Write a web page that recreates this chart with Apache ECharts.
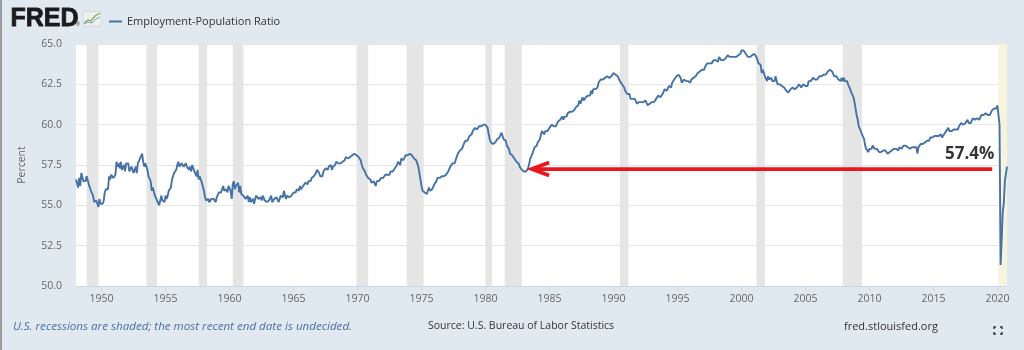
<!DOCTYPE html>
<html>
<head>
<meta charset="utf-8">
<script src="https://cdn.jsdelivr.net/npm/echarts@6/dist/echarts.min.js"></script>
<style>
  html, body { margin: 0; padding: 0; background: #e1e9f0; }
  #chart { width: 1024px; height: 350px; }
</style>
</head>
<body>
<div id="chart"></div>
<script>
// Civilian employment-population ratio, monthly, seasonally adjusted (percent)
const seriesName = 'Employment-Population Ratio';
const startYear = 1948;

const ratio1948to1959 = [
  56.6,56.7,56.1,56.7,56.2,57.0,57.1,56.5,56.6,56.5,56.8,56.7,
  56.3,56.1,55.9,55.8,55.6,55.2,55.1,55.3,55.2,54.9,55.4,55.1,
  55.0,55.1,55.3,55.8,56.0,56.1,56.0,56.8,56.6,56.9,56.8,56.7,
  56.8,56.9,57.7,57.4,57.6,57.3,57.7,57.2,57.1,57.5,57.1,57.6,
  57.7,57.6,57.1,57.0,57.4,57.2,57.0,56.9,57.4,57.0,57.6,57.7,
  57.9,57.8,58.2,57.7,57.4,57.6,57.4,57.2,56.8,56.8,56.5,55.9,
  56.1,56.0,55.6,55.6,55.3,55.2,55.0,55.3,55.6,55.3,55.4,55.2,
  55.6,55.4,55.6,55.9,55.9,56.1,56.6,56.8,57.0,56.9,57.2,57.5,
  57.7,57.4,57.5,57.6,57.5,57.4,57.5,57.6,57.4,57.5,57.2,57.4,
  57.1,57.5,57.3,57.1,57.0,56.8,57.2,56.6,56.8,56.6,56.4,56.4,
  55.9,55.5,55.3,55.2,55.4,55.2,55.3,55.4,55.5,55.4,55.3,55.2,
  55.5,55.4,55.8,55.9,55.8,55.9,56.2,55.9,55.8,56.0,55.8,56.2
];
const ratio1960s = [
  56.2,55.9,55.4,56.3,56.5,56.0,56.2,56.1,56.4,55.8,56.2,55.7,
  55.8,55.6,55.7,55.4,55.3,55.6,55.2,55.5,55.2,55.3,55.4,55.1,
  55.4,55.6,55.6,55.4,55.5,55.5,55.3,55.6,55.6,55.3,55.2,55.2,
  55.3,55.3,55.4,55.6,55.2,55.3,55.4,55.5,55.5,55.4,55.2,55.3,
  55.6,55.7,55.5,55.9,55.6,55.4,55.6,55.5,55.5,55.6,55.6,55.7,
  55.8,55.9,55.8,56.0,56.0,55.9,56.2,56.0,56.0,56.2,56.3,56.4,
  56.4,56.3,56.5,56.6,56.5,56.7,56.7,56.8,56.9,57.0,57.2,57.1,
  57.0,56.8,56.9,56.8,57.1,57.1,57.3,57.3,57.2,57.4,57.5,57.5,
  57.2,57.4,57.3,57.5,57.7,57.8,57.6,57.6,57.6,57.5,57.7,57.8,
  57.8,58.0,57.9,57.9,57.9,58.0,58.1,58.1,58.1,58.2,58.1,58.1
];
const ratio1970s = [
  58.1,58.0,57.9,57.8,57.5,57.3,57.3,57.1,56.9,56.8,56.7,56.6,
  56.6,56.4,56.3,56.5,56.4,56.2,56.5,56.5,56.5,56.6,56.7,56.8,
  56.7,56.8,56.9,56.9,56.9,57.0,56.9,57.1,57.0,57.1,57.2,57.3,
  57.2,57.5,57.7,57.6,57.5,57.9,57.9,57.8,57.8,58.1,58.2,58.1,
  58.2,58.2,58.2,58.1,58.0,57.9,57.9,57.8,57.6,57.4,57.0,56.6,
  56.2,55.9,55.8,55.8,55.9,55.7,55.9,56.1,55.9,56.0,56.0,56.0,
  56.3,56.4,56.5,56.7,56.8,56.7,56.8,56.8,56.7,56.8,56.8,56.9,
  56.9,57.1,57.2,57.4,57.4,57.6,57.5,57.6,57.8,57.9,58.2,58.2,
  58.4,58.4,58.5,58.7,58.8,59.0,58.9,59.0,59.0,59.3,59.3,59.4,
  59.6,59.7,59.8,59.8,59.7,59.8,59.9,59.8,59.9,59.9,60.0,60.1
];
const ratio1980s = [
  60.0,60.0,59.8,59.4,59.1,58.9,58.8,58.8,58.9,58.9,59.0,59.1,
  59.1,59.2,59.3,59.5,59.6,59.1,59.1,59.0,58.7,58.7,58.5,58.2,
  58.2,58.1,58.0,57.9,58.0,57.7,57.7,57.6,57.4,57.3,57.2,57.2,
  57.1,57.1,57.1,57.2,57.3,57.6,57.9,58.0,58.2,58.3,58.6,58.7,
  58.7,58.9,59.0,59.1,59.4,59.6,59.5,59.4,59.6,59.6,59.6,59.7,
  59.8,59.8,60.0,59.9,59.9,59.8,59.9,60.0,60.2,60.2,60.3,60.4,
  60.5,60.3,60.5,60.5,60.5,60.7,60.7,60.8,60.8,60.8,60.9,60.9,
  61.0,61.1,61.1,61.2,61.5,61.3,61.5,61.7,61.5,61.6,61.7,61.8,
  61.8,61.9,61.8,62.1,61.9,62.2,62.2,62.2,62.3,62.3,62.6,62.5,
  62.8,62.9,62.8,62.8,62.9,63.0,63.0,63.1,62.9,63.0,63.0,63.0
];
const ratio1990s = [
  63.2,63.2,63.1,63.0,63.0,62.9,62.7,62.6,62.5,62.4,62.3,62.1,
  62.0,61.9,61.8,61.9,61.6,61.7,61.6,61.5,61.6,61.5,61.3,61.3,
  61.4,61.3,61.4,61.5,61.4,61.5,61.5,61.4,61.2,61.3,61.3,61.3,
  61.4,61.4,61.4,61.5,61.6,61.7,61.8,61.9,61.7,61.8,61.9,62.0,
  62.2,62.2,62.1,62.2,62.4,62.3,62.3,62.6,62.6,62.8,62.9,63.0,
  63.1,63.1,63.0,62.9,62.6,62.6,62.8,62.7,62.7,62.8,62.7,62.7,
  62.6,62.8,62.8,62.9,62.9,63.0,63.1,63.2,63.2,63.3,63.3,63.4,
  63.4,63.4,63.6,63.7,63.8,63.7,63.8,63.9,63.8,63.8,64.0,64.0,
  64.0,64.1,63.9,64.2,64.1,64.0,64.0,64.0,64.1,64.1,64.2,64.3,
  64.4,64.2,64.1,64.2,64.3,64.2,64.1,64.2,64.2,64.3,64.4,64.4
];
const ratio2000s = [
  64.6,64.6,64.6,64.7,64.4,64.5,64.2,64.2,64.2,64.2,64.3,64.4,
  64.4,64.3,64.2,64.0,63.8,63.7,63.7,63.2,63.4,63.2,63.0,62.9,
  62.7,63.0,62.8,62.7,62.9,62.7,62.7,62.7,63.0,62.7,62.5,62.4,
  62.5,62.5,62.4,62.4,62.3,62.3,62.1,62.1,62.0,62.1,62.2,62.2,
  62.3,62.3,62.2,62.3,62.3,62.4,62.5,62.4,62.3,62.3,62.5,62.4,
  62.4,62.4,62.4,62.7,62.8,62.7,62.8,62.9,62.8,62.8,62.7,62.8,
  62.9,63.0,63.1,63.0,63.1,63.1,63.0,63.1,63.1,63.3,63.3,63.4,
  63.3,63.3,63.3,63.0,63.0,63.0,62.9,62.8,62.9,62.7,62.9,62.7,
  62.9,62.7,62.7,62.7,62.5,62.4,62.2,62.0,61.9,61.7,61.4,61.0,
  60.6,60.3,59.9,59.8,59.6,59.4,59.3,59.1,58.7,58.5,58.6,58.3
];
const ratio2010s = [
  58.5,58.5,58.5,58.7,58.6,58.5,58.5,58.5,58.5,58.3,58.3,58.3,
  58.4,58.4,58.4,58.4,58.3,58.2,58.2,58.3,58.3,58.4,58.5,58.5,
  58.4,58.5,58.5,58.4,58.6,58.6,58.5,58.5,58.7,58.8,58.7,58.6,
  58.6,58.6,58.5,58.6,58.6,58.6,58.6,58.6,58.6,58.2,58.6,58.6,
  58.8,58.7,58.8,58.9,58.9,59.0,59.0,59.0,59.0,59.2,59.2,59.2,
  59.3,59.3,59.3,59.3,59.4,59.3,59.3,59.4,59.2,59.3,59.4,59.5,
  59.6,59.7,59.8,59.6,59.6,59.6,59.7,59.7,59.7,59.7,59.7,59.7,
  59.9,60.0,60.1,60.2,60.0,60.1,60.1,60.0,60.3,60.1,60.1,60.1,
  60.1,60.4,60.4,60.3,60.4,60.4,60.5,60.3,60.4,60.6,60.6,60.6,
  60.6,60.7,60.7,60.6,60.6,60.6,60.7,60.9,61.0,61.0,61.0,61.0
];
const ratio2020 = [61.2,61.1,60.0,51.3,52.8,54.6,55.1,56.5,56.6,57.4];

// NBER recessions, first and last month of each shaded period
const recessions = [
  ['1948-11','1949-10'], ['1953-07','1954-05'], ['1957-08','1958-04'],
  ['1960-04','1961-02'], ['1969-12','1970-11'], ['1973-11','1975-03'],
  ['1980-01','1980-07'], ['1981-07','1982-11'], ['1990-07','1991-03'],
  ['2001-03','2001-11'], ['2007-12','2009-06']
];
const openRecessionStart = '2020-02';

const yearTicks = [1950,1955,1960,1965,1970,1975,1980,1985,1990,1995,2000,2005,2010,2015,2020];
const percentTicks = [50, 52.5, 55, 57.5, 60, 62.5, 65];

// Callout arrow: horizontal level and the years it spans
const arrowLevel = 57.25;
const arrowTipYear = 1983.62;
const arrowTailYear = 2019.6;

// ---- build chart inputs ----
const monthly = [].concat(ratio1948to1959, ratio1960s, ratio1970s, ratio1980s,
                          ratio1990s, ratio2000s, ratio2010s, ratio2020);
const points = monthly.map((v, i) => [startYear + i / 12, v]);
const lastX = points[points.length - 1][0];
const lastValue = monthly[monthly.length - 1];
const ym = s => { const [y, m] = s.split('-').map(Number); return y + (m - 1) / 12; };

const shaded = recessions.map(([a, b]) => [{ xAxis: ym(a) }, { xAxis: ym(b) }]);
const openShade = [[{ xAxis: ym(openRecessionStart), itemStyle: { color: '#f6f4dc' } }, { xAxis: lastX }]];

const chart = echarts.init(document.getElementById('chart'), null, { renderer: 'canvas' });
const font = '"Open Sans", "Noto Sans", sans-serif';

chart.setOption({
  backgroundColor: '#e1e9f0',
  animation: false,
  textStyle: { fontFamily: font },
  grid: { left: 76, right: 17, top: 44, bottom: 64, show: true, backgroundColor: '#ffffff', borderWidth: 0 },
  legend: {
    data: [seriesName], left: 104, top: 11, icon: 'rect', itemWidth: 13, itemHeight: 2,
    textStyle: { fontSize: 11, color: '#333333', fontFamily: font }, selectedMode: false
  },
  xAxis: {
    type: 'value', min: startYear, max: lastX,
    axisLine: { show: true, lineStyle: { color: '#ccd6eb', width: 1 } },
    axisTick: { show: true, customValues: yearTicks, length: 5, lineStyle: { color: '#ccd6eb' } },
    axisLabel: { customValues: yearTicks, formatter: v => String(Math.round(v)), color: '#666666', fontSize: 10.5, margin: 8, fontFamily: font },
    splitLine: { show: false }
  },
  yAxis: {
    type: 'value', min: percentTicks[0], max: percentTicks[percentTicks.length - 1], interval: 2.5,
    name: 'Percent', nameLocation: 'middle', nameGap: 48, nameRotate: 90,
    nameTextStyle: { color: '#666666', fontSize: 10.5, fontFamily: font },
    axisLine: { show: false }, axisTick: { show: false },
    axisLabel: { formatter: v => v.toFixed(1), color: '#666666', fontSize: 10.5, margin: 14, fontFamily: font },
    splitLine: { lineStyle: { color: '#e6e6e6', width: 1 } }
  },
  series: [
    {
      type: 'line', data: [], z: 1, silent: true,
      markArea: { silent: true, itemStyle: { color: '#e5e5e5' }, data: shaded.concat(openShade) }
    },
    {
      name: seriesName, type: 'line', data: points, z: 3,
      showSymbol: false, symbol: 'none',
      lineStyle: { color: '#4572a7', width: 1.9 }, itemStyle: { color: '#4572a7' }
    },
    {
      type: 'line', z: 5, silent: true, symbol: 'none',
      data: [[arrowTailYear, arrowLevel], [arrowTipYear, arrowLevel]],
      lineStyle: { color: '#e8161e', width: 3.8, cap: 'butt' }
    },
    {
      type: 'line', z: 5, silent: true, symbol: 'none',
      data: [[arrowTipYear + 1.35, arrowLevel + 0.4], [arrowTipYear, arrowLevel], [arrowTipYear + 1.35, arrowLevel - 0.4]],
      lineStyle: { color: '#e8161e', width: 3.8, cap: 'butt', join: 'miter' }
    },
    {
      type: 'scatter', z: 6, silent: true, symbolSize: 1,
      itemStyle: { color: 'rgba(0,0,0,0)' },
      data: [[arrowTailYear, arrowLevel]],
      label: {
        show: true, position: 'top', align: 'right', distance: 6, offset: [2, 0],
        formatter: () => lastValue.toFixed(1) + '%',
        fontSize: 17, fontWeight: 'bold', color: '#000000', fontFamily: font
      }
    }
  ],
  graphic: [
    { type: 'rect', left: 0, top: 0, shape: { width: 2, height: 350 }, style: { fill: '#9a9a9a' }, silent: true },
    { type: 'text', left: 10, top: 6, style: { text: 'FRED', font: 'bold 25px "Liberation Sans", Arial, sans-serif', fill: '#1b1b1b', stroke: '#1b1b1b', lineWidth: 0.8 } },
    { type: 'text', left: 76, top: 22, style: { text: '®', font: '5px "Liberation Sans", sans-serif', fill: '#1b1b1b' } },
    { type: 'rect', left: 83, top: 11, shape: { width: 18, height: 15 }, style: { fill: '#eef0ee', stroke: '#c9cdc9', lineWidth: 0.6 } },
    { type: 'polyline', shape: { points: [[84, 23], [88, 20], [91, 21], [95, 16], [100, 13]] }, style: { stroke: '#7cae52', lineWidth: 1.3, fill: null } },
    { type: 'polyline', shape: { points: [[84, 24], [88, 22], [92, 23], [96, 19], [100, 17]] }, style: { stroke: '#7c9cc6', lineWidth: 1, fill: null } },
    { type: 'text', left: 13, top: 321, style: { text: 'U.S. recessions are shaded; the most recent end date is undecided.', font: 'italic 11.6px ' + font, fill: '#4a6fa5' } },
    { type: 'text', left: 428, top: 321, style: { text: 'Source: U.S. Bureau of Labor Statistics', font: '10.5px ' + font, fill: '#333333' } },
    { type: 'text', left: 844, top: 321, style: { text: 'fred.stlouisfed.org', font: '11px ' + font, fill: '#333333' } },
    { type: 'polyline', shape: { points: [[994, 329], [994, 327], [996, 327]] }, style: { stroke: '#333', lineWidth: 1.4, fill: null } },
    { type: 'polyline', shape: { points: [[1000, 327], [1002, 327], [1002, 329]] }, style: { stroke: '#333', lineWidth: 1.4, fill: null } },
    { type: 'polyline', shape: { points: [[994, 332], [994, 334], [996, 334]] }, style: { stroke: '#333', lineWidth: 1.4, fill: null } },
    { type: 'polyline', shape: { points: [[1000, 334], [1002, 334], [1002, 332]] }, style: { stroke: '#333', lineWidth: 1.4, fill: null } }
  ]
});
</script>
</body>
</html>
